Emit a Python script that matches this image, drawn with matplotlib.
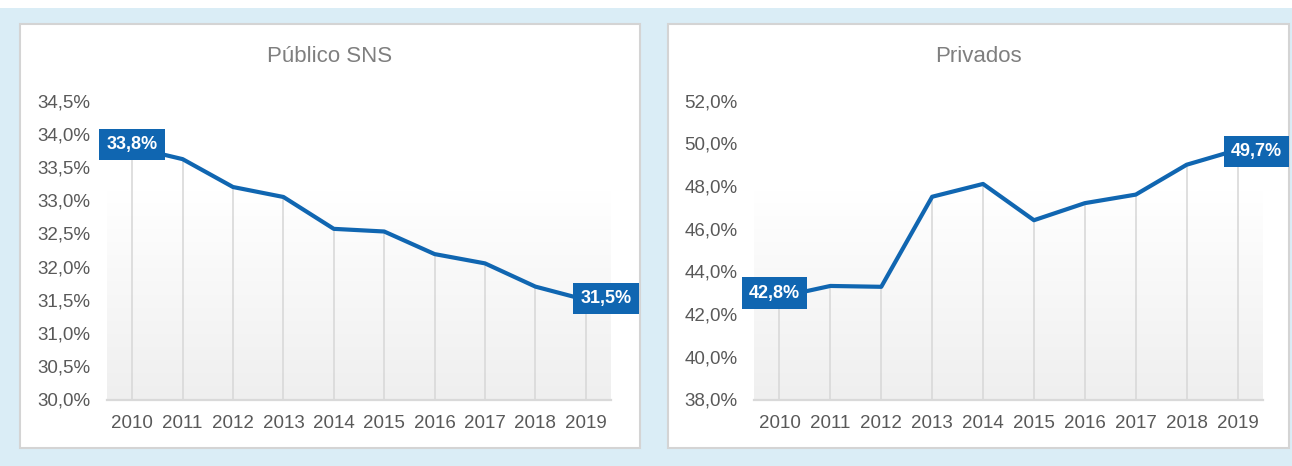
import matplotlib

matplotlib.use("Agg")
import matplotlib.pyplot as plt
import numpy as np
from matplotlib.patches import Rectangle

plt.rcParams["font.family"] = ["Liberation Sans", "DejaVu Sans"]

years = ["2010", "2011", "2012", "2013", "2014", "2015", "2016", "2017", "2018", "2019"]
publico = [33.8, 33.62, 33.2, 33.05, 32.57, 32.53, 32.19, 32.05, 31.7, 31.5]
privados = [42.8, 43.32, 43.28, 47.5, 48.1, 46.4, 47.2, 47.6, 49.0, 49.7]
publico_ticks = [30.0, 30.5, 31.0, 31.5, 32.0, 32.5, 33.0, 33.5, 34.0, 34.5]
privados_ticks = [38.0, 40.0, 42.0, 44.0, 46.0, 48.0, 50.0, 52.0]

BLUE = "#1066b1"
GRID = "#d9d9d9"
TICK = "#595959"
W, H = 1292, 466


def fmt(v):
    return f"{v:.1f}".replace(".", ",") + "%"


def px_rect(x0, y0, x1, y1):
    # pixel box (top-left origin) -> figure fraction rect
    return [x0 / W, (H - y1) / H, (x1 - x0) / W, (y1 - y0) / H]


fig = plt.figure(figsize=(W / 100, H / 100), dpi=100)
fig.patch.set_facecolor("#daedf6")
fig.patches.append(Rectangle((0, (H - 8) / H), 1, 8 / H, transform=fig.transFigure,
                             facecolor="white", edgecolor="none", zorder=-10))

panels = [(20, 24, 640, 448), (668, 24, 1289, 448)]
for x0, y0, x1, y1 in panels:
    r = px_rect(x0, y0, x1, y1)
    fig.patches.append(Rectangle((r[0], r[1]), r[2], r[3], transform=fig.transFigure,
                                 facecolor="white", edgecolor="#d4d4d4", linewidth=1.5,
                                 zorder=-10))

# label offsets (points) for the first and last value of each series
charts = [
    ("Público SNS", publico, publico_ticks, (107, 100.7, 611, 399.5), 330,
     [(0, 2), (14.4, 1)]),
    ("Privados", privados, privados_ticks, (754, 100.7, 1263, 399.5), 978,
     [(-3.6, 2.9), (13.7, -1.3)]),
]

# soft grey gradient for the plot area: opaque at the bottom, gone by 70% height
fade = np.linspace(0, 1, 256)
rgba = np.zeros((256, 1, 4))
rgba[..., :3] = 0.94
rgba[:, 0, 3] = 1 - np.clip(fade / 0.7, 0, 1)

for title, values, ticks, box, title_x, offsets in charts:
    ax = fig.add_axes(px_rect(*box))
    ax.set_facecolor("none")
    x = np.arange(len(years))

    ax.imshow(rgba, extent=(0, 1, 0, 1), transform=ax.transAxes, aspect="auto",
              origin="lower", zorder=0)
    ax.set_xlim(-0.5, len(years) - 0.5)
    ax.set_ylim(ticks[0], ticks[-1])

    ax.vlines(x, ticks[0], values, color=GRID, linewidth=1.2, zorder=1)
    ax.plot(x, values, color=BLUE, linewidth=3, solid_joinstyle="round", zorder=3)

    for idx, (dx, dy) in zip([0, len(values) - 1], offsets):
        ax.annotate(fmt(values[idx]), (x[idx], values[idx]), xytext=(dx, dy),
                    textcoords="offset points", ha="center", va="center",
                    color="white", fontsize=13, fontweight="bold", zorder=5,
                    annotation_clip=False,
                    bbox=dict(boxstyle="square,pad=0.4", facecolor=BLUE, edgecolor="none"))

    ax.set_xticks(x)
    ax.set_xticklabels(years)
    ax.set_yticks(ticks)
    ax.set_yticklabels([fmt(t) for t in ticks])
    ax.tick_params(axis="both", length=0, labelsize=13.5, labelcolor=TICK)
    ax.tick_params(axis="y", pad=12)
    ax.tick_params(axis="x", pad=11)
    for side in ["left", "right", "top"]:
        ax.spines[side].set_visible(False)
    ax.spines["bottom"].set_color(GRID)
    ax.spines["bottom"].set_linewidth(1.6)

    fig.text(title_x / W, (H - 57) / H, title, ha="center", va="center",
             fontsize=16, color="#7f7f7f")

fig.savefig("out.png", dpi=100, facecolor=fig.get_facecolor())
